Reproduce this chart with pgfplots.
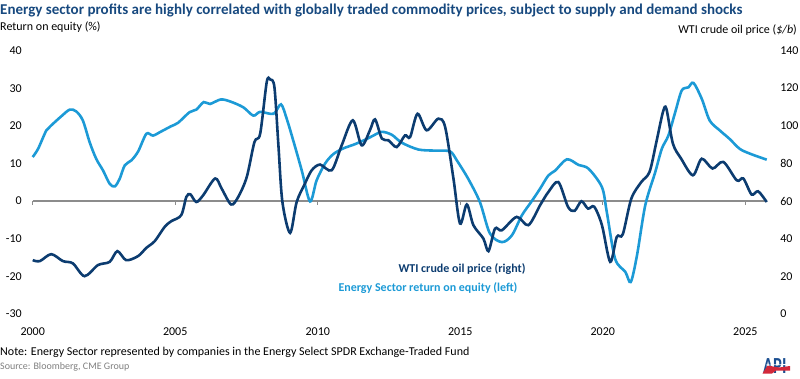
\documentclass[border=0pt]{standalone}
\usepackage{pgfplots}
\pgfplotsset{compat=1.18}
\usepackage{fontspec}
\setmainfont{Carlito}
\definecolor{navy}{HTML}{0C3C70}
\definecolor{lblue}{HTML}{1C9AD6}
\definecolor{ttl}{HTML}{17497F}
\definecolor{zline}{HTML}{8C8C8C}
\definecolor{srcgray}{HTML}{7F7F7F}
\definecolor{apired}{HTML}{D3283A}
\definecolor{apiblue}{HTML}{1B4F91}

\pgfplotstableread{
x y
2000.00 11.7
2000.19 13.9
2000.48 18.8
2000.65 20.1
2001.00 22.5
2001.30 24.3
2001.53 23.8
2001.76 21.4
2002.00 15.6
2002.23 11.2
2002.47 8.1
2002.70 4.6
2002.88 3.9
2003.05 5.9
2003.23 9.5
2003.46 10.8
2003.70 13.2
2003.99 17.9
2004.22 17.4
2004.51 18.5
2004.86 19.9
2005.10 20.8
2005.50 23.6
2005.74 24.3
2006.00 26.3
2006.22 25.8
2006.60 27.0
2006.95 26.4
2007.39 24.9
2007.74 22.7
2007.98 23.7
2008.45 23.2
2008.71 25.7
2008.91 21.9
2009.14 16.1
2009.44 8.1
2009.73 -0.1
2009.96 5.5
2010.26 10.0
2010.55 12.5
2010.90 14.0
2011.30 15.1
2011.72 16.5
2011.95 17.4
2012.25 18.4
2012.60 17.6
2012.95 15.5
2013.53 13.7
2014.12 13.4
2014.64 13.2
2014.88 10.8
2015.28 5.9
2015.69 -0.3
2016.04 -8.6
2016.46 -10.9
2016.81 -9.1
2017.16 -3.8
2017.50 -0.1
2017.80 3.3
2018.09 6.8
2018.33 8.1
2018.74 11.1
2019.15 9.6
2019.50 8.6
2019.97 3.7
2020.14 -2.9
2020.43 -15.3
2020.79 -18.8
2020.98 -21.5
2021.20 -14.4
2021.49 -1.1
2021.84 7.7
2022.07 13.9
2022.30 17.4
2022.54 23.6
2022.77 29.4
2023.00 30.2
2023.18 31.4
2023.47 27.2
2023.75 21.4
2024.10 18.8
2024.45 16.5
2024.80 13.9
2025.16 12.6
2025.75 11.0
}\roedata

\pgfplotstableread{
x y
2000.00 28.6
2000.25 28.1
2000.65 31.8
2001.06 28.1
2001.41 26.9
2001.82 20.1
2002.29 26.0
2002.70 27.7
2002.97 33.4
2003.28 28.6
2003.70 30.8
2003.99 35.2
2004.28 38.7
2004.63 46.3
2004.86 49.3
2005.21 52.5
2005.39 62.2
2005.53 63.6
2005.74 59.5
2005.98 63.1
2006.40 72.0
2006.63 66.6
2006.96 58.2
2007.21 62.2
2007.51 72.8
2007.78 91.4
2007.98 95.8
2008.21 123.2
2008.33 124.6
2008.48 120.5
2008.62 89.6
2008.76 59.5
2009.03 43.1
2009.26 59.5
2009.55 69.3
2009.79 76.4
2010.08 79.4
2010.49 76.4
2010.84 89.6
2011.23 102.9
2011.54 89.6
2011.83 97.6
2012.01 103.4
2012.25 93.2
2012.48 92.3
2012.77 88.7
2013.06 94.9
2013.24 94.0
2013.50 106.4
2013.82 97.6
2014.23 103.8
2014.47 99.3
2014.76 72.0
2014.99 48.1
2015.23 58.2
2015.46 47.2
2015.81 40.1
2015.99 33.4
2016.22 45.4
2016.46 44.5
2016.98 51.6
2017.39 47.2
2017.80 57.8
2018.09 64.8
2018.44 70.1
2018.78 56.9
2019.01 54.8
2019.25 59.9
2019.48 56.0
2019.70 57.0
2019.97 47.2
2020.26 27.7
2020.49 41.0
2020.70 42.3
2021.00 61.3
2021.35 70.1
2021.64 75.5
2021.88 91.4
2022.11 107.3
2022.23 109.1
2022.46 90.5
2022.75 82.5
2023.16 73.7
2023.47 82.5
2023.85 77.3
2024.23 80.8
2024.70 71.0
2024.93 72.0
2025.22 63.5
2025.45 65.2
2025.75 59.5
}\oildata

\begin{document}
\begin{tikzpicture}[x=1pt,y=1pt]
\path[use as bounding box] (0,0) rectangle (800,-378);
\pgfplotsset{
  mybase/.style={
    at={(32.7pt,-314pt)}, anchor=south west,
    scale only axis, width=734pt, height=263.5pt,
    xmin=2000, xmax=2025.75,
    axis line style={draw=none}, tick style={draw=none},
    /pgf/number format/assume math mode=true,
    /pgf/number format/1000 sep={},
    tick label style={font=\fontsize{12}{14}\selectfont, inner sep=0pt},
    clip=false,
  }
}
\begin{axis}[mybase,
  ymin=-30, ymax=40, ytick={-30,-20,...,40},
  xtick={2000,2005,...,2025},
  xticklabel style={yshift=-14pt},
  yticklabel style={xshift=-10.7pt},
]
\draw[zline, line width=1.3pt] (axis cs:2000,0) -- (axis cs:2025.75,0);
\draw[zline, line width=1pt] (axis cs:2000,0) -- ++(0pt,-4.3pt);
\draw[zline, line width=1pt] (axis cs:2005,0) -- ++(0pt,-4.3pt);
\draw[zline, line width=1pt] (axis cs:2010,0) -- ++(0pt,-4.3pt);
\draw[zline, line width=1pt] (axis cs:2015,0) -- ++(0pt,-4.3pt);
\draw[zline, line width=1pt] (axis cs:2020,0) -- ++(0pt,-4.3pt);
\draw[zline, line width=1pt] (axis cs:2025,0) -- ++(0pt,-4.3pt);
\addplot[lblue, line width=2.6pt, smooth, tension=0.5] table[x=x,y=y] {\roedata};
\end{axis}
\begin{axis}[mybase,
  ymin=0, ymax=140, ytick={0,20,...,140},
  hide x axis,
  yticklabel pos=right,
  yticklabel style={anchor=west, xshift=13.4pt},
]
\addplot[navy, line width=2.6pt, smooth, tension=0.5] table[x=x,y=y] {\oildata};
\end{axis}

\node[anchor=base west, inner sep=0, text=ttl, font=\bfseries\fontsize{15}{18}\selectfont] at (0,-14.5) {Energy sector profits are highly correlated with globally traded commodity prices, subject to supply and demand shocks};
\node[anchor=base west, inner sep=0, font=\fontsize{12}{14}\selectfont] at (0,-30) {Return on equity (\%)};
\node[anchor=base east, inner sep=0, font=\fontsize{12}{14}\selectfont] at (797,-33) {WTI crude oil price (\textit{\$/b})};

\node[anchor=base west, inner sep=0, text=navy, font=\bfseries\fontsize{12}{14}\selectfont] at (398.3,-272.5) {WTI crude oil price (right)};
\node[anchor=base west, inner sep=0, text=lblue, font=\bfseries\fontsize{12}{14}\selectfont] at (338.3,-291.5) {Energy Sector return on equity (left)};

\node[anchor=base west, inner sep=0, font=\fontsize{12}{14}\selectfont] at (0,-355) {Note: Energy Sector represented by companies in the Energy Select SPDR Exchange-Traded Fund};
\node[anchor=base west, inner sep=0, text=srcgray, font=\fontsize{10}{12}\selectfont] at (0,-369) {Source: Bloomberg, CME Group};

% logo
\node[anchor=base west, inner sep=0, text=apiblue, font=\bfseries\fontsize{23}{23}\selectfont] at (763,-373) {\scalebox{0.72}[1]{API}};
\fill[apired] (762.5,-373.5) -- (767.5,-365.5) -- (779,-367.5) -- (790,-366) -- (790,-370.5) -- (776,-370.5) -- (772,-373.5) -- cycle;
\draw[white, line width=0.8pt] (766,-365) -- (790,-364.5);
\end{tikzpicture}
\end{document}
